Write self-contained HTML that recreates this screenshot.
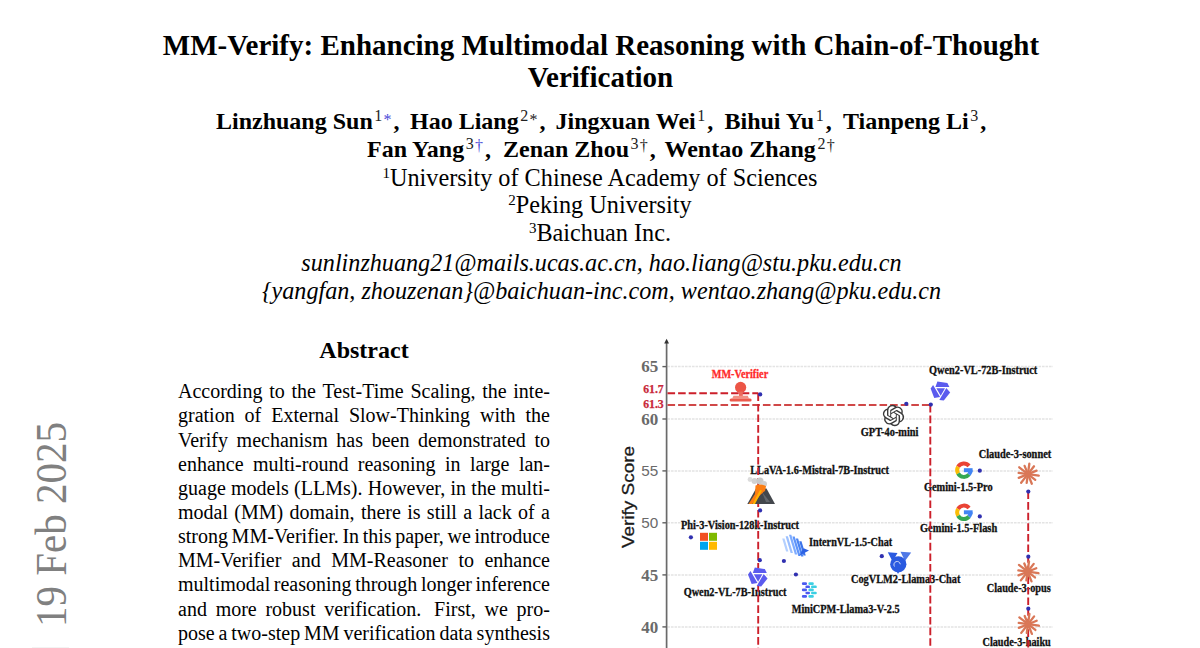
<!DOCTYPE html>
<html><head><meta charset="utf-8">
<style>
html,body{margin:0;padding:0;background:#fff;}
body{width:1200px;height:648px;position:relative;overflow:hidden;font-family:"Liberation Serif",serif;color:#000;}
.ln{position:absolute;left:0;width:1200px;text-align:center;white-space:nowrap;line-height:1;}
.t{font-weight:bold;font-size:29px;}
.au{position:absolute;white-space:nowrap;line-height:1;font-weight:bold;font-size:24px;}
.sp{font-weight:normal;font-size:16px;position:relative;top:-8px;margin-left:1.5px;color:#222;}
.st{position:relative;top:4.4px;margin-left:1.3px;}
.dg{position:relative;top:1.5px;margin-left:1.3px;}
.cm{margin-left:2px;}
.af{font-size:24.25px;}
.af sup{font-size:15px;vertical-align:0;position:relative;top:-7.6px;}
.em{font-style:italic;font-size:24.15px;}
.blue{color:#4a4ad8;}
.ah{position:absolute;left:178px;width:372px;text-align:center;font-weight:bold;font-size:24px;line-height:1;}
.bl{position:absolute;left:178px;width:372px;display:flex;justify-content:space-between;font-size:20px;line-height:1;white-space:nowrap;}
.arx{position:absolute;left:0;top:0;font-size:41px;line-height:1;color:#808080;white-space:nowrap;transform-origin:0 0;}
</style></head><body>
<div class="ln t" style="top:31px;left:1px">MM-Verify: Enhancing Multimodal Reasoning with Chain-of-Thought</div>
<div class="ln t" style="top:63px;left:0.5px">Verification</div>
<div class="au" style="top:109px;left:216px">Linzhuang Sun<span class="sp">1<span class="st blue">*</span></span><span class="cm">,</span></div>
<div class="au" style="top:109px;left:410px">Hao Liang<span class="sp">2<span class="st">*</span></span><span class="cm">,</span></div>
<div class="au" style="top:109px;left:555.5px">Jingxuan Wei<span class="sp">1</span><span class="cm">,</span></div>
<div class="au" style="top:109px;left:724.5px">Bihui Yu<span class="sp">1</span><span class="cm">,</span></div>
<div class="au" style="top:109px;left:843px">Tianpeng Li<span class="sp">3</span><span class="cm">,</span></div>
<div class="au" style="top:137px;left:367px">Fan Yang<span class="sp">3<span class="dg blue">†</span></span><span class="cm">,</span></div>
<div class="au" style="top:137px;left:503px">Zenan Zhou<span class="sp">3<span class="dg">†</span></span><span class="cm">,</span></div>
<div class="au" style="top:137px;left:664.5px">Wentao Zhang<span class="sp">2<span class="dg">†</span></span></div>
<div class="ln af" style="top:165.5px"><sup>1</sup>University of Chinese Academy of Sciences</div>
<div class="ln af" style="top:193px"><sup>2</sup>Peking University</div>
<div class="ln af" style="top:220.5px"><sup>3</sup>Baichuan Inc.</div>
<div class="ln em" style="top:251px;left:1.5px">sunlinzhuang21@mails.ucas.ac.cn, hao.liang@stu.pku.edu.cn</div>
<div class="ln em" style="top:279.3px;left:1.5px">{yangfan, zhouzenan}@baichuan-inc.com, wentao.zhang@pku.edu.cn</div>
<div class="ah" style="top:338px">Abstract</div>
<div class="bl" style="top:381.35px"><span>According</span><span>to</span><span>the</span><span>Test-Time</span><span>Scaling,</span><span>the</span><span>inte-</span></div>
<div class="bl" style="top:405.49px"><span>gration</span><span>of</span><span>External</span><span>Slow-Thinking</span><span>with</span><span>the</span></div>
<div class="bl" style="top:429.63px"><span>Verify</span><span>mechanism</span><span>has</span><span>been</span><span>demonstrated</span><span>to</span></div>
<div class="bl" style="top:453.77px"><span>enhance</span><span>multi-round</span><span>reasoning</span><span>in</span><span>large</span><span>lan-</span></div>
<div class="bl" style="top:477.91px"><span>guage</span><span>models</span><span>(LLMs).</span><span>However,</span><span>in</span><span>the</span><span>multi-</span></div>
<div class="bl" style="top:502.05px"><span>modal</span><span>(MM)</span><span>domain,</span><span>there</span><span>is</span><span>still</span><span>a</span><span>lack</span><span>of</span><span>a</span></div>
<div class="bl" style="top:526.19px"><span>strong</span><span>MM-Verifier.</span><span>In</span><span>this</span><span>paper,</span><span>we</span><span>introduce</span></div>
<div class="bl" style="top:550.33px"><span>MM-Verifier</span><span>and</span><span>MM-Reasoner</span><span>to</span><span>enhance</span></div>
<div class="bl" style="top:574.47px"><span>multimodal</span><span>reasoning</span><span>through</span><span>longer</span><span>inference</span></div>
<div class="bl" style="top:598.61px"><span>and</span><span>more</span><span>robust</span><span>verification.</span><span style="margin-left:4px">First,</span><span>we</span><span>pro-</span></div>
<div class="bl" style="top:622.75px"><span>pose</span><span>a</span><span>two-step</span><span>MM</span><span>verification</span><span>data</span><span>synthesis</span></div>
<div class="arx" style="transform:translate(29.5px,627px) rotate(-90deg) scale(1,1.07)">19 Feb 2025</div>
<div style="position:absolute;left:32px;top:647px;width:37px;height:1px;background:#f3f3f3"></div><!--CHART--><svg style="position:absolute;left:0;top:0" width="1200" height="648" viewBox="0 0 1200 648"><line x1="667.5" y1="366.6" x2="1053" y2="366.6" stroke="#e4e4e4" stroke-width="1.5" stroke-dasharray="2.6 0.9"/><line x1="667.5" y1="419.0" x2="1053" y2="419.0" stroke="#e4e4e4" stroke-width="1.5" stroke-dasharray="2.6 0.9"/><line x1="667.5" y1="470.9" x2="1053" y2="470.9" stroke="#e4e4e4" stroke-width="1.5" stroke-dasharray="2.6 0.9"/><line x1="667.5" y1="522.8" x2="1053" y2="522.8" stroke="#e4e4e4" stroke-width="1.5" stroke-dasharray="2.6 0.9"/><line x1="667.5" y1="574.9" x2="1053" y2="574.9" stroke="#e4e4e4" stroke-width="1.5" stroke-dasharray="2.6 0.9"/><line x1="667.5" y1="626.9" x2="1053" y2="626.9" stroke="#e4e4e4" stroke-width="1.5" stroke-dasharray="2.6 0.9"/><line x1="666.6" y1="342" x2="666.6" y2="660" stroke="#6a6a6a" stroke-width="1.7"/><path d="M664.2 343.4 L666.6 338.8 L669.0 343.4 Z" fill="#333"/><line x1="662.4" y1="366.6" x2="666.6" y2="366.6" stroke="#606060" stroke-width="1.4"/><line x1="662.4" y1="419.0" x2="666.6" y2="419.0" stroke="#606060" stroke-width="1.4"/><line x1="662.4" y1="470.9" x2="666.6" y2="470.9" stroke="#606060" stroke-width="1.4"/><line x1="662.4" y1="522.8" x2="666.6" y2="522.8" stroke="#606060" stroke-width="1.4"/><line x1="662.4" y1="574.9" x2="666.6" y2="574.9" stroke="#606060" stroke-width="1.4"/><line x1="662.4" y1="626.9" x2="666.6" y2="626.9" stroke="#606060" stroke-width="1.4"/><text x="641.2" y="372.20000000000005" font-family="Liberation Serif" font-weight="bold" font-size="16.2" fill="#6a6a6a" textLength="17" lengthAdjust="spacingAndGlyphs">65</text><text x="641.2" y="424.6" font-family="Liberation Serif" font-weight="bold" font-size="16.2" fill="#6a6a6a" textLength="17" lengthAdjust="spacingAndGlyphs">60</text><text x="641.2" y="476.2" font-family="Liberation Sans" font-size="14.8" fill="#6a6a6a" textLength="17" lengthAdjust="spacingAndGlyphs">55</text><text x="641.2" y="528.0999999999999" font-family="Liberation Sans" font-size="14.8" fill="#6a6a6a" textLength="17" lengthAdjust="spacingAndGlyphs">50</text><text x="641.2" y="580.5" font-family="Liberation Serif" font-weight="bold" font-size="16.2" fill="#6a6a6a" textLength="17" lengthAdjust="spacingAndGlyphs">45</text><text x="641.2" y="632.5" font-family="Liberation Serif" font-weight="bold" font-size="16.2" fill="#6a6a6a" textLength="17" lengthAdjust="spacingAndGlyphs">40</text><text transform="translate(634.2,548) rotate(-90)" font-family="Liberation Sans" font-size="16.6" fill="#1a1a1a" stroke="#1a1a1a" stroke-width="0.3" textLength="102" lengthAdjust="spacingAndGlyphs">Verify Score</text><text x="643.2" y="392.9" font-family="Liberation Serif" font-weight="bold" font-size="11.8" fill="#c8283a" stroke="#c8283a" stroke-width="0.25" textLength="20.5" lengthAdjust="spacingAndGlyphs">61.7</text><text x="643.2" y="407.7" font-family="Liberation Serif" font-weight="bold" font-size="11.8" fill="#c8283a" stroke="#c8283a" stroke-width="0.25" textLength="20.5" lengthAdjust="spacingAndGlyphs">61.3</text><text x="711.8" y="378.1" font-family="Liberation Serif" font-weight="bold" font-size="11.6" fill="#ff2a2a" stroke="#ff2a2a" stroke-width="0.3" textLength="56.4" lengthAdjust="spacingAndGlyphs">MM-Verifier</text><text x="929" y="374.3" font-family="Liberation Serif" font-weight="bold" font-size="11.6" fill="#111" stroke="#111" stroke-width="0.3" textLength="108.3" lengthAdjust="spacingAndGlyphs">Qwen2-VL-72B-Instruct</text><text x="860.8" y="435.5" font-family="Liberation Serif" font-weight="bold" font-size="11.6" fill="#111" stroke="#111" stroke-width="0.3" textLength="57.7" lengthAdjust="spacingAndGlyphs">GPT-4o-mini</text><text x="750.2" y="473.7" font-family="Liberation Serif" font-weight="bold" font-size="11.6" fill="#111" stroke="#111" stroke-width="0.3" textLength="138.8" lengthAdjust="spacingAndGlyphs">LLaVA-1.6-Mistral-7B-Instruct</text><text x="681" y="528.5" font-family="Liberation Serif" font-weight="bold" font-size="11.6" fill="#111" stroke="#111" stroke-width="0.3" textLength="118" lengthAdjust="spacingAndGlyphs">Phi-3-Vision-128k-Instruct</text><text x="809" y="546.3" font-family="Liberation Serif" font-weight="bold" font-size="11.6" fill="#111" stroke="#111" stroke-width="0.3" textLength="83.2" lengthAdjust="spacingAndGlyphs">InternVL-1.5-Chat</text><text x="683.7" y="596.3" font-family="Liberation Serif" font-weight="bold" font-size="11.6" fill="#111" stroke="#111" stroke-width="0.3" textLength="102.7" lengthAdjust="spacingAndGlyphs">Qwen2-VL-7B-Instruct</text><text x="791.7" y="613.4" font-family="Liberation Serif" font-weight="bold" font-size="11.6" fill="#111" stroke="#111" stroke-width="0.3" textLength="108" lengthAdjust="spacingAndGlyphs">MiniCPM-Llama3-V-2.5</text><text x="851" y="582.5" font-family="Liberation Serif" font-weight="bold" font-size="11.6" fill="#111" stroke="#111" stroke-width="0.3" textLength="109.4" lengthAdjust="spacingAndGlyphs">CogVLM2-Llama3-Chat</text><text x="923.9" y="491.3" font-family="Liberation Serif" font-weight="bold" font-size="11.6" fill="#111" stroke="#111" stroke-width="0.3" textLength="68.7" lengthAdjust="spacingAndGlyphs">Gemini-1.5-Pro</text><text x="920" y="531.8" font-family="Liberation Serif" font-weight="bold" font-size="11.6" fill="#111" stroke="#111" stroke-width="0.3" textLength="77.2" lengthAdjust="spacingAndGlyphs">Gemini-1.5-Flash</text><text x="978.7" y="457.7" font-family="Liberation Serif" font-weight="bold" font-size="11.6" fill="#111" stroke="#111" stroke-width="0.3" textLength="72.5" lengthAdjust="spacingAndGlyphs">Claude-3-sonnet</text><text x="986.7" y="592.1" font-family="Liberation Serif" font-weight="bold" font-size="11.6" fill="#111" stroke="#111" stroke-width="0.3" textLength="64.1" lengthAdjust="spacingAndGlyphs">Claude-3-opus</text><text x="982.5" y="645.5" font-family="Liberation Serif" font-weight="bold" font-size="11.6" fill="#111" stroke="#111" stroke-width="0.3" textLength="68.3" lengthAdjust="spacingAndGlyphs">Claude-3-haiku</text><line x1="667.5" y1="393.3" x2="758.3" y2="393.3" stroke="#cc1f2a" stroke-width="1.9" stroke-dasharray="7.6 3"/><line x1="667.5" y1="405" x2="930.4" y2="405" stroke="#d04848" stroke-width="1.9" stroke-dasharray="7.6 3"/><line x1="758.2" y1="393.3" x2="758.2" y2="660" stroke="#cc1f2a" stroke-width="1.9" stroke-dasharray="7.6 3"/><line x1="930.3" y1="405" x2="930.3" y2="660" stroke="#cc1f2a" stroke-width="1.9" stroke-dasharray="7.6 3"/><line x1="1028.2" y1="491.5" x2="1028.2" y2="660" stroke="#cc1f2a" stroke-width="1.9" stroke-dasharray="7.6 3"/><g><circle cx="740.6" cy="387.4" r="5.6" fill="#ec5546"/><rect x="739" y="391.5" width="3.8" height="4.6" fill="#ec6a5c"/><path d="M733.5 395.8 H747.8 L749 398.5 H732.2 Z" fill="#f29083"/><rect x="729.6" y="398.6" width="22" height="3" rx="1.5" fill="#ec5a4c"/></g><rect x="700" y="532.8" width="8" height="8" fill="#f25022"/><rect x="709" y="532.8" width="8" height="8" fill="#7fba00"/><rect x="700" y="541.8" width="8" height="8" fill="#00a4ef"/><rect x="709" y="541.8" width="8" height="8" fill="#ffb900"/><g transform="translate(940.6,390.7) scale(1.0)" fill="#5b5bee"><circle r="8.5" fill="#fff"/><path d="M-3.2,-9.2 L6.8,-7.6 L8.8,-3.6 L-5.2,-3.6 Z" transform="rotate(0)"/><path d="M-3.2,-9.2 L6.8,-7.6 L8.8,-3.6 L-5.2,-3.6 Z" transform="rotate(120)"/><path d="M-3.2,-9.2 L6.8,-7.6 L8.8,-3.6 L-5.2,-3.6 Z" transform="rotate(240)"/><path d="M-4.2,-2.4 L4.4,-2.4 L0.1,5.05 Z"/></g><g transform="translate(758,576.7) scale(1.0)" fill="#5b5bee"><circle r="8.5" fill="#fff"/><path d="M-3.2,-9.2 L6.8,-7.6 L8.8,-3.6 L-5.2,-3.6 Z" transform="rotate(0)"/><path d="M-3.2,-9.2 L6.8,-7.6 L8.8,-3.6 L-5.2,-3.6 Z" transform="rotate(120)"/><path d="M-3.2,-9.2 L6.8,-7.6 L8.8,-3.6 L-5.2,-3.6 Z" transform="rotate(240)"/><path d="M-4.2,-2.4 L4.4,-2.4 L0.1,5.05 Z"/></g><g transform="translate(882.82,404.82) scale(0.89)"><path fill="#3a3a3a" d="M22.2819 9.8211a5.9847 5.9847 0 0 0-.5157-4.9108 6.0462 6.0462 0 0 0-6.5098-2.9A6.0651 6.0651 0 0 0 4.9807 4.1818a5.9847 5.9847 0 0 0-3.9977 2.9 6.0462 6.0462 0 0 0 .7427 7.0966 5.98 5.98 0 0 0 .511 4.9107 6.051 6.051 0 0 0 6.5146 2.9001A5.9847 5.9847 0 0 0 13.2599 24a6.0557 6.0557 0 0 0 5.7718-4.2058 5.9894 5.9894 0 0 0 3.9977-2.9001 6.0557 6.0557 0 0 0-.7475-7.0729zm-9.022 12.6081a4.4755 4.4755 0 0 1-2.8764-1.0408l.1419-.0804 4.7783-2.7582a.7948.7948 0 0 0 .3927-.6813v-6.7369l2.02 1.1686a.071.071 0 0 1 .038.052v5.5826a4.504 4.504 0 0 1-4.4945 4.4944zm-9.6607-4.1254a4.4708 4.4708 0 0 1-.5346-3.0137l.142.0852 4.783 2.7582a.7712.7712 0 0 0 .7806 0l5.8428-3.3685v2.3324a.0804.0804 0 0 1-.0332.0615L9.74 19.9502a4.4992 4.4992 0 0 1-6.1408-1.6464zM2.3408 7.8956a4.485 4.485 0 0 1 2.3655-1.9728V11.6a.7664.7664 0 0 0 .3879.6765l5.8144 3.3543-2.0201 1.1685a.0757.0757 0 0 1-.071 0l-4.8303-2.7865A4.504 4.504 0 0 1 2.3408 7.872zm16.5963 3.8558L13.1038 8.364 15.1192 7.2a.0757.0757 0 0 1 .071 0l4.8303 2.7913a4.4944 4.4944 0 0 1-.6765 8.1042v-5.6772a.79.79 0 0 0-.407-.667zm2.0107-3.0231l-.142-.0852-4.7735-2.7818a.7759.7759 0 0 0-.7854 0L9.409 9.2297V6.8974a.0662.0662 0 0 1 .0284-.0615l4.8303-2.7866a4.4992 4.4992 0 0 1 6.6802 4.66zM8.3065 12.863l-2.02-1.1638a.0804.0804 0 0 1-.038-.0567V6.0742a4.4992 4.4992 0 0 1 7.3757-3.4537l-.142.0805L8.704 5.459a.7948.7948 0 0 0-.3927.6813zm1.0976-2.3654l2.602-1.4998 2.6069 1.4998v2.9994l-2.5974 1.4997-2.6067-1.4997Z"/></g><g><path d="M756,488.5 L766.5,488.5 L775,504 L747.3,504 Z" fill="#43474c"/><path d="M762,492 L770,502 L766,502 Z" fill="#6b6f74" opacity="0.8"/><circle cx="750" cy="479.5" r="2.4" fill="#dcdcdc"/><circle cx="754.5" cy="481" r="3" fill="#d2d2d2"/><circle cx="760" cy="481" r="3.6" fill="#c9c9c9"/><circle cx="764" cy="484" r="3" fill="#d0d0d0"/><path d="M755.5,485.5 Q761,483.5 766,486 L765,491 Q760.5,494 758,498 L752,504 L748.6,504 L755,494 Z" fill="#fb7d12"/><path d="M760,490 L762,490.5 L755,504 L752.5,504 Z" fill="#ffb400"/></g><g><path d="M782.2,538.5 L784.5,538.5 L788.4,551.5 L786.1,551.5 Z" fill="#b4d0ff"/><path d="M785.6,536.3 L787.9,536.3 L792.91,553.0 L790.61,553.0 Z" fill="#9cc0ff"/><path d="M789.0,534.8 L791.3,534.8 L797.2099999999999,554.5 L794.91,554.5 Z" fill="#7eacff"/><path d="M792.4,536.4 L794.6999999999999,536.4 L800.5799999999999,556.0 L798.28,556.0 Z" fill="#5f95fa"/><path d="M795.8,538.6 L798.0999999999999,538.6 L803.4699999999999,556.5 L801.17,556.5 Z" fill="#4a84f2"/><path d="M799.2,541.2 L801.5,541.2 L805.79,555.5 L803.49,555.5 Z" fill="#3b74ea"/><path d="M799.2,555.8 L809,550.5 L803.6,548.2 Z" fill="#2d62e4"/></g><g fill="#2a5ae0"><path d="M887.8,552.2 L897.5,553 L892.5,561.5 Z"/><path d="M900.5,551.8 L911.2,552.5 L905,561 Z" fill="#4f78e6"/><circle cx="898.3" cy="564.3" r="8.1"/><path d="M896.5,571 L898,574 L899.5,571 Z"/></g><path d="M894.5,566.5 a3.2 3.2 0 1 1 5.8 -2.2" fill="none" stroke="#fff" stroke-width="1" opacity="0.75"/><rect x="801.9" y="582.3000000000001" width="5.1" height="2.6" rx="1.2" fill="#4a5af0"/><rect x="808.4" y="582.3000000000001" width="5.4" height="2.6" rx="1.2" fill="#3ccfe3"/><rect x="805.4" y="585.5" width="4.6" height="2.6" rx="1.2" fill="#4a5af0"/><rect x="811" y="585.5" width="5.8" height="2.6" rx="1.2" fill="#3ccfe3"/><rect x="801.9" y="588.6" width="5.1" height="2.6" rx="1.2" fill="#4a5af0"/><rect x="808.4" y="588.6" width="5.4" height="2.6" rx="1.2" fill="#3ccfe3"/><rect x="805.4" y="591.7" width="4.6" height="2.6" rx="1.2" fill="#4a5af0"/><rect x="811" y="591.7" width="5.8" height="2.6" rx="1.2" fill="#3ccfe3"/><rect x="801.9" y="595.1" width="5.1" height="2.6" rx="1.2" fill="#4a5af0"/><rect x="808.4" y="595.1" width="5.4" height="2.6" rx="1.2" fill="#3ccfe3"/><path d="M969.03,465.89 A6.7,6.7 0 0 0 958.10,466.85" fill="none" stroke="#ea4335" stroke-width="4.0"/><path d="M958.10,466.85 A6.7,6.7 0 0 0 958.10,473.55" fill="none" stroke="#fbbc05" stroke-width="4.0"/><path d="M958.10,473.55 A6.7,6.7 0 0 0 969.03,474.51" fill="none" stroke="#34a853" stroke-width="4.0"/><path d="M969.03,474.51 A6.7,6.7 0 0 0 970.60,470.20" fill="none" stroke="#4285f4" stroke-width="4.0"/><rect x="963.9" y="468.2" width="8.7" height="4" fill="#4285f4"/><path d="M969.03,507.99 A6.7,6.7 0 0 0 958.10,508.95" fill="none" stroke="#ea4335" stroke-width="4.0"/><path d="M958.10,508.95 A6.7,6.7 0 0 0 958.10,515.65" fill="none" stroke="#fbbc05" stroke-width="4.0"/><path d="M958.10,515.65 A6.7,6.7 0 0 0 969.03,516.61" fill="none" stroke="#34a853" stroke-width="4.0"/><path d="M969.03,516.61 A6.7,6.7 0 0 0 970.60,512.30" fill="none" stroke="#4285f4" stroke-width="4.0"/><rect x="963.9" y="510.29999999999995" width="8.7" height="4" fill="#4285f4"/><g stroke="#d97757" stroke-width="2.3" stroke-linecap="round"><line x1="1027.90" y1="474.10" x2="1038.79" y2="475.63"/><line x1="1027.90" y1="474.10" x2="1035.27" y2="479.86"/><line x1="1027.90" y1="474.10" x2="1031.81" y2="483.79"/><line x1="1027.90" y1="474.10" x2="1026.68" y2="482.81"/><line x1="1027.90" y1="474.10" x2="1021.13" y2="482.77"/><line x1="1027.90" y1="474.10" x2="1018.72" y2="477.81"/><line x1="1027.90" y1="474.10" x2="1018.64" y2="472.80"/><line x1="1027.90" y1="474.10" x2="1019.23" y2="467.33"/><line x1="1027.90" y1="474.10" x2="1024.60" y2="465.94"/><line x1="1027.90" y1="474.10" x2="1029.35" y2="463.75"/><line x1="1027.90" y1="474.10" x2="1034.00" y2="466.30"/><line x1="1027.90" y1="474.10" x2="1036.57" y2="470.60"/><circle cx="1027.9" cy="474.1" r="3.2" fill="#d97757" stroke="none"/></g><g stroke="#d97757" stroke-width="2.3" stroke-linecap="round"><line x1="1027.60" y1="571.70" x2="1038.49" y2="573.23"/><line x1="1027.60" y1="571.70" x2="1034.97" y2="577.46"/><line x1="1027.60" y1="571.70" x2="1031.51" y2="581.39"/><line x1="1027.60" y1="571.70" x2="1026.38" y2="580.41"/><line x1="1027.60" y1="571.70" x2="1020.83" y2="580.37"/><line x1="1027.60" y1="571.70" x2="1018.42" y2="575.41"/><line x1="1027.60" y1="571.70" x2="1018.34" y2="570.40"/><line x1="1027.60" y1="571.70" x2="1018.93" y2="564.93"/><line x1="1027.60" y1="571.70" x2="1024.30" y2="563.54"/><line x1="1027.60" y1="571.70" x2="1029.05" y2="561.35"/><line x1="1027.60" y1="571.70" x2="1033.70" y2="563.90"/><line x1="1027.60" y1="571.70" x2="1036.27" y2="568.20"/><circle cx="1027.6" cy="571.7" r="3.2" fill="#d97757" stroke="none"/></g><g stroke="#d97757" stroke-width="2.3" stroke-linecap="round"><line x1="1028.00" y1="624.20" x2="1038.89" y2="625.73"/><line x1="1028.00" y1="624.20" x2="1035.37" y2="629.96"/><line x1="1028.00" y1="624.20" x2="1031.91" y2="633.89"/><line x1="1028.00" y1="624.20" x2="1026.78" y2="632.91"/><line x1="1028.00" y1="624.20" x2="1021.23" y2="632.87"/><line x1="1028.00" y1="624.20" x2="1018.82" y2="627.91"/><line x1="1028.00" y1="624.20" x2="1018.74" y2="622.90"/><line x1="1028.00" y1="624.20" x2="1019.33" y2="617.43"/><line x1="1028.00" y1="624.20" x2="1024.70" y2="616.04"/><line x1="1028.00" y1="624.20" x2="1029.45" y2="613.85"/><line x1="1028.00" y1="624.20" x2="1034.10" y2="616.40"/><line x1="1028.00" y1="624.20" x2="1036.67" y2="620.70"/><circle cx="1028" cy="624.2" r="3.2" fill="#d97757" stroke="none"/></g><circle cx="760.2" cy="394.4" r="2.1" fill="#3030b0"/><circle cx="906.3" cy="403.8" r="2.1" fill="#3030b0"/><circle cx="930.8" cy="404.6" r="2.1" fill="#3030b0"/><circle cx="760.1" cy="510.4" r="2.1" fill="#3030b0"/><circle cx="690.9" cy="537.3" r="2.1" fill="#3030b0"/><circle cx="759.8" cy="560.2" r="2.1" fill="#3030b0"/><circle cx="783.9" cy="561.0" r="2.1" fill="#3030b0"/><circle cx="795.9" cy="574.5" r="2.1" fill="#3030b0"/><circle cx="881.8" cy="556.2" r="2.1" fill="#3030b0"/><circle cx="979.8" cy="470.7" r="2.1" fill="#3030b0"/><circle cx="979.8" cy="516.4" r="2.1" fill="#3030b0"/><circle cx="1028.3" cy="491.6" r="2.1" fill="#3030b0"/><circle cx="1028.3" cy="556.7" r="2.1" fill="#3030b0"/><circle cx="1028.3" cy="608.7" r="2.1" fill="#3030b0"/></svg><!--/CHART-->
</body></html>
